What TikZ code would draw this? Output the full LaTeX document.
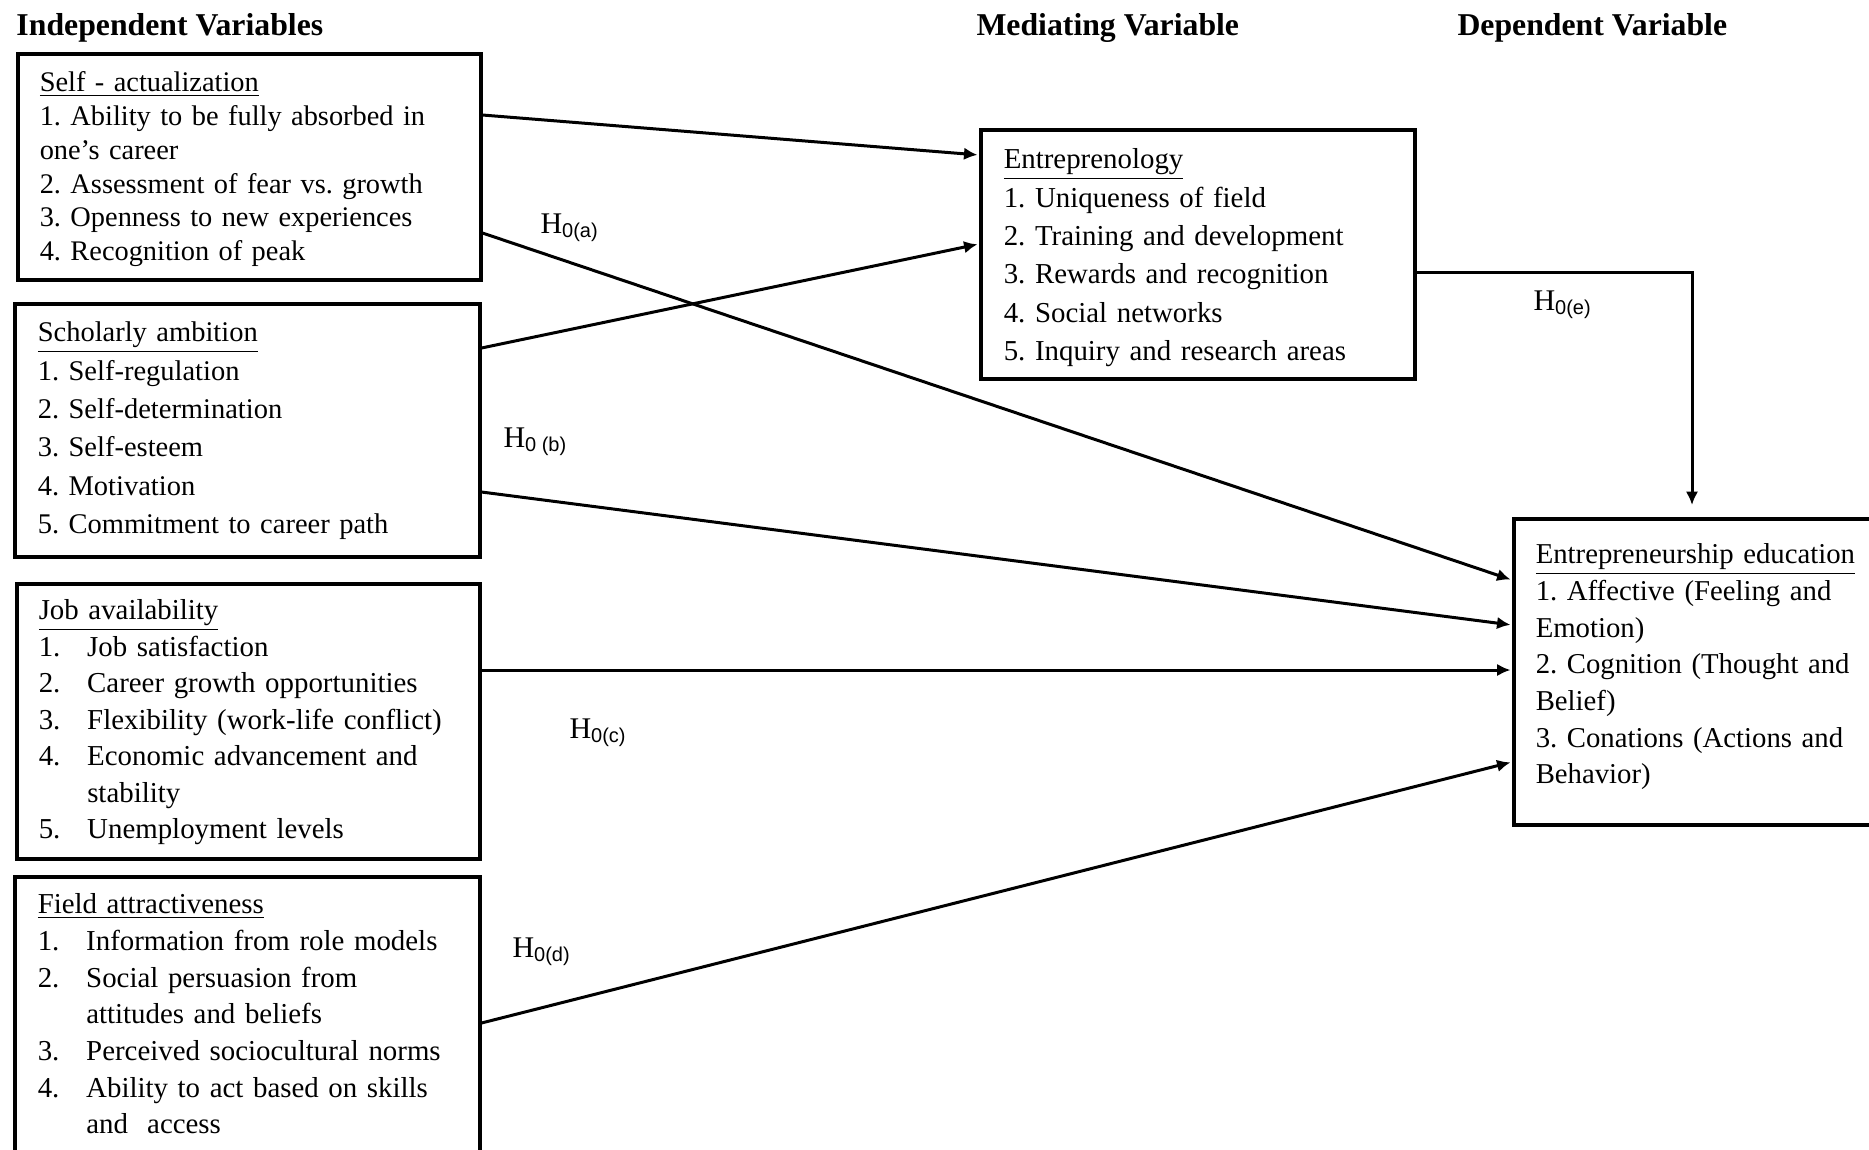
\documentclass[tikz,border=0pt]{standalone}
\usepackage{fontspec}
\setmainfont{Liberation Serif}
\setsansfont{Liberation Sans}
\usepackage{tikz}
\usetikzlibrary{arrows.meta, calc}

\newcommand{\numitem}[1]{\makebox[19.4pt][l]{#1}}
\newcommand{\tgap}[1]{\rule{0pt}{#1}}
\newcommand{\bgap}[1]{\rule[-#1]{0pt}{#1}}
\newcommand{\hnull}[1]{H\textsubscript{\sffamily #1}}

\tikzset{
  varbox/.style={draw, line width=1.4pt, anchor=north west, align=left, inner ysep=0pt},
  link/.style={-{Latex[length=5.4pt,width=5pt]}, line width=1.2pt, shorten >=0.6pt},
  heading/.style={anchor=base west, inner sep=0pt, font=\fontsize{12.7}{15}\selectfont\bfseries},
  hlabel/.style={anchor=base west, inner sep=0pt, font=\fontsize{12}{14}\selectfont},
}

\begin{document}
\frenchspacing
\begin{tikzpicture}[x=0.4pt, y=-0.4pt]
\useasboundingbox (0,0) rectangle (1869,1149);

\node[heading] (hdrIV) at (16,35) {Independent Variables};
\node[heading] (hdrMV) at (976,35) {Mediating Variable};
\node[heading] (hdrDV) at (1457,35) {Dependent Variable};

% independent variables
\node[varbox, inner xsep=8.8pt, text width=167.6pt, font=\fontsize{11.35}{13.52}\selectfont] (selfact) at (16,52)
  {\tgap{15.2pt}\underline{Self - actualization}\\
   1. Ability to be fully absorbed in\\
   one’s career\\
   2. Assessment of fear vs. growth\\
   3. Openness to new experiences\\
   4. Recognition of peak\bgap{7.6pt}};
\node[varbox, inner xsep=9.2pt, text width=167.6pt, font=\fontsize{11.4}{15.36}\selectfont] (scholar) at (13,302)
  {\tgap{15.2pt}\underline{Scholarly ambition}\\
   1. Self-regulation\\
   2. Self-determination\\
   3. Self-esteem\\
   4. Motivation\\
   5. Commitment to career path\bgap{9.2pt}};
\node[varbox, inner xsep=8.8pt, text width=167.6pt, font=\fontsize{11.55}{14.6}\selectfont] (jobav) at (15,582)
  {\tgap{14.4pt}\underline{Job availability}\\
   \numitem{1.}Job satisfaction\\
   \numitem{2.}Career growth opportunities\\
   \numitem{3.}Flexibility (work-life conflict)\\
   \numitem{4.}Economic advancement and\\
   \numitem{}stability\\
   \numitem{5.}Unemployment levels\bgap{8pt}};
\node[varbox, inner xsep=9.2pt, text width=167.6pt, font=\fontsize{11.55}{14.68}\selectfont] (field) at (13,875)
  {\tgap{14.8pt}\underline{Field attractiveness}\\
   \numitem{1.}Information from role models\\
   \numitem{2.}Social persuasion from\\
   \numitem{}attitudes and beliefs\\
   \numitem{3.}Perceived sociocultural norms\\
   \numitem{4.}Ability to act based on skills\\
   \numitem{}and\ \ access\bgap{12pt}};

% mediating and dependent variables
\node[varbox, inner xsep=9.2pt, text width=155.2pt, font=\fontsize{11.55}{15.36}\selectfont] (entrep) at (979,128)
  {\tgap{15.6pt}\underline{Entreprenology}\\
   1. Uniqueness of field\\
   2. Training and development\\
   3. Rewards and recognition\\
   4. Social networks\\
   5. Inquiry and research areas\bgap{7.2pt}};
\node[varbox, inner xsep=8.8pt, text width=129.6pt, font=\fontsize{11.5}{14.68}\selectfont] (eed) at (1512,517)
  {\tgap{18pt}\underline{Entrepreneurship education}\\
   1. Affective (Feeling and\\
   Emotion)\\
   2. Cognition (Thought and\\
   Belief)\\
   3. Conations (Actions and\\
   Behavior)\bgap{16.4pt}};

\node[hlabel] (hA) at (540,233) {\hnull{0(a)}};
\node[hlabel] (hB) at (503,447) {\hnull{0 (b)}};
\node[hlabel] (hC) at (569,738) {\hnull{0(c)}};
\node[hlabel] (hD) at (512,957) {\hnull{0(d)}};
\node[hlabel] (hE) at (1533,310) {\hnull{0(e)}};

\draw[link] ($(selfact.north east)+(0,63)$) -- ($(entrep.north west)+(0,27)$);
\draw[link] ($(selfact.north east)+(0,181)$) -- ($(eed.north west)+(0,63)$);
\draw[link] ($(scholar.north east)+(0,46)$) -- ($(entrep.north west)+(0,116)$);
\draw[link] ($(scholar.north east)+(0,190)$) -- ($(eed.north west)+(0,108)$);
\draw[link] ($(jobav.north east)+(0,88)$) -- ($(eed.north west)+(0,153)$);
\draw[link] ($(field.north east)+(0,148)$) -- ($(eed.north west)+(0,245)$);
\draw[link, shorten >=4.8pt] ($(entrep.north east)+(0,144)$) -| ($(eed.north west)+(180,0)$);
\end{tikzpicture}
\end{document}
